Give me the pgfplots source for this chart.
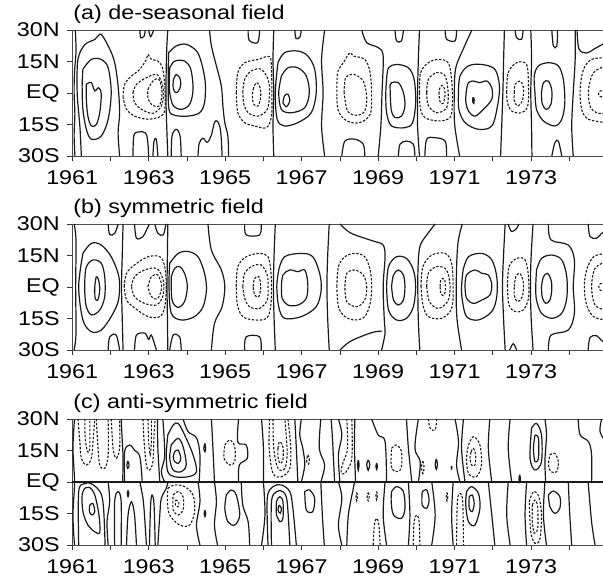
\documentclass[border=0pt]{standalone}
\usepackage{fontspec}
\setmainfont{Liberation Sans}[FakeStretch=1.17]
\usepackage{pgfplots}
\pgfplotsset{compat=1.18}
\newcommand\lbl{\fontsize{20}{23}\selectfont}
\pgfplotsset{
  cpos/.style={black!90, line width=1.2bp, smooth, tension=0.55},
  cneg/.style={cpos, line width=1.1bp, dash pattern=on 2.4bp off 1.6bp},
  panel/.style={
    width=532.4bp, height=126bp, scale only axis,
    xmin=1961, xmax=1974.92, ymin=-30, ymax=30,
    xtick={1961,1962,...,1974},
    xticklabels={1961,,1963,,1965,,1967,,1969,,1971,,1973,},
    ytick={-30,-15,0,15,30},
    yticklabels={30S,15S,EQ,15N,30N},
    xtick pos=left, ytick pos=left,
    tick align=outside,
    major tick length=5bp,
    tick style={black!80, line width=0.8bp},
    axis line style={black!70, line width=0.9bp},
    every tick label/.append style={font=\lbl},
    yticklabel style={xshift=-4bp},
    xticklabel style={yshift=-6bp},
    /pgf/number format/assume math mode=true,
    title style={font=\lbl, at={(0,1)}, anchor=base west, xshift=1bp, yshift=5bp, inner sep=0pt},
    anchor=south west,
  }
}
\begin{document}
\begin{tikzpicture}
\useasboundingbox (0,0) rectangle (603bp,579bp);
%%%%%%%%%%%%%%%%%%%%%%%%%%%%%%%%%%%%%%%% (a)
\begin{axis}[panel, at={(72.2bp,423bp)}, title={(a) de-seasonal field}]
\addplot[cpos] coordinates {(1961.08,30)(1961.1,20)(1961.06,10)(1961.05,0)(1961.07,-10)(1961.05,-20)(1961.07,-30)};
\addplot[cpos] coordinates {(1961.24,-30)(1961.2,-15.7)(1961.13,0.2)(1961.15,16)(1961.33,23)(1961.59,25.5)(1961.72,28)(1961.8,27)(1961.98,21)(1962.11,14.5)(1962.2,3.3)(1962.24,-9.4)(1962.2,-19)(1962.24,-30)};
\addplot[cpos] coordinates {(1961.28,11.3)(1961.5,16)(1961.76,16)(1961.94,12)(1962.02,0.2)(1961.94,-12.5)(1961.76,-20.5)(1961.5,-22)(1961.37,-17.3)(1961.28,-7.8)(1961.26,3.3)(1961.28,11.3)};
\addplot[cpos] coordinates {(1961.37,4.1)(1961.5,5)(1961.59,1)(1961.69,2.5)(1961.76,-0.6)(1961.72,-9.4)(1961.63,-15)(1961.5,-15.7)(1961.41,-11)(1961.37,-3)(1961.37,4.1)};
\addplot[cneg] coordinates {(1962.33,-2.1)(1962.37,4.1)(1962.55,8.1)(1962.77,11.3)(1962.94,16)(1962.98,18.4)(1963.07,16)(1963.24,15.2)(1963.37,11.3)(1963.43,0.2)(1963.42,-7.8)(1963.33,-11)(1962.98,-12.5)(1962.63,-11)(1962.42,-7.8)(1962.33,-2.1)};
\addplot[cneg] coordinates {(1962.59,0.2)(1962.68,4.1)(1962.94,7.3)(1963.2,8.9)(1963.33,5.7)(1963.39,0.2)(1963.33,-6.2)(1963.11,-9.7)(1962.81,-7.8)(1962.63,-4.6)(1962.59,0.2)};
\addplot[cneg] coordinates {(1962.98,1.7)(1963.11,5.7)(1963.27,6.5)(1963.35,0.2)(1963.27,-6.2)(1963.07,-5.4)(1962.98,-2.1)(1962.98,1.7)};
\addplot[cpos] coordinates {(1962.77,30)(1962.79,26.3)(1962.88,27.1)(1962.91,30)};
\addplot[cpos] coordinates {(1963.0,30)(1963.05,26.8)(1963.13,30)};
\addplot[cpos] coordinates {(1962.59,-30)(1962.61,-20.5)(1962.72,-18.6)(1962.94,-19.7)(1963.0,-30)};
\addplot[cpos] coordinates {(1963.11,-30)(1963.14,-22.9)(1963.2,-22)(1963.24,-30)};
\addplot[cpos] coordinates {(1963.5,30)(1963.47,20)(1963.45,0)(1963.47,-15)(1963.5,-30)};
\addplot[cpos] coordinates {(1963.72,8.9)(1963.81,7.3)(1963.84,4.1)(1963.78,0.9)(1963.7,0.2)(1963.64,2.5)(1963.65,6.5)(1963.72,8.9)};
\addplot[cpos] coordinates {(1963.55,12)(1963.68,15.2)(1963.94,15.2)(1964.1,11.3)(1964.16,1.7)(1964.07,-5.4)(1963.85,-7.8)(1963.64,-5.9)(1963.55,0.2)(1963.54,6.5)(1963.55,12)};
\addplot[cpos] coordinates {(1963.52,19.2)(1963.72,22.4)(1963.98,23.2)(1964.25,20)(1964.38,14.4)(1964.48,4.9)(1964.46,-4.6)(1964.33,-9.4)(1964.03,-11)(1963.68,-10.6)(1963.53,-7.8)(1963.51,6.5)(1963.52,19.2)};
\addplot[cpos] coordinates {(1964.59,30)(1964.64,22.4)(1964.77,12.9)(1964.9,3.3)(1964.94,-6.2)(1964.99,-14.1)(1965.07,-20.5)(1965.09,-30)};
\addplot[cpos] coordinates {(1963.59,-30)(1963.61,-20.5)(1963.72,-17.3)(1963.82,-20.5)(1963.85,-30)};
\addplot[cpos] coordinates {(1964.29,-30)(1964.32,-24)(1964.42,-21.5)(1964.53,-23.5)(1964.64,-20)(1964.72,-14)(1964.8,-13.5)(1964.88,-18)(1964.92,-30)};
\addplot[cpos] coordinates {(1965.6,30)(1965.63,25)(1965.85,24)(1965.9,30)};
\addplot[cpos] coordinates {(1966.82,30)(1966.85,26)(1966.95,26.5)(1966.99,30)};
\addplot[cneg] coordinates {(1965.29,0.2)(1965.33,9.7)(1965.51,14.4)(1965.86,16)(1966.16,17.3)(1966.21,11.3)(1966.22,0.2)(1966.21,-11)(1966.08,-16.5)(1965.77,-15.7)(1965.51,-14.1)(1965.33,-9.4)(1965.29,0.2)};
\addplot[cneg] coordinates {(1965.46,0.2)(1965.51,6.5)(1965.68,10.5)(1965.94,11.3)(1966.12,6.5)(1966.16,0.2)(1966.1,-7.8)(1965.86,-11)(1965.6,-9.4)(1965.49,-5.4)(1965.46,0.2)};
\addplot[cneg] coordinates {(1965.73,1.7)(1965.81,4.9)(1965.9,3.3)(1965.93,-1.5)(1965.86,-6.2)(1965.75,-5.4)(1965.71,-2.1)(1965.73,1.7)};
\addplot[cpos] coordinates {(1966.27,30)(1966.25,16)(1966.27,0.2)(1966.25,-15.7)(1966.27,-30)};
\addplot[cpos] coordinates {(1966.38,14.4)(1966.55,19.2)(1966.9,20)(1967.16,17.6)(1967.34,11.3)(1967.38,0.2)(1967.25,-9.4)(1966.9,-14.1)(1966.55,-15.7)(1966.36,-12.5)(1966.31,0.2)(1966.38,14.4)};
\addplot[cpos] coordinates {(1966.47,8.1)(1966.64,12)(1966.9,12)(1967.12,8.1)(1967.2,0.2)(1967.08,-7)(1966.73,-9.4)(1966.47,-7.8)(1966.4,0.2)(1966.47,8.1)};
\addplot[cpos] coordinates {(1966.51,-4.6)(1966.55,-1.4)(1966.64,-0.6)(1966.69,-3.8)(1966.6,-6.5)(1966.51,-4.6)};
\addplot[cpos] coordinates {(1967.6,30)(1967.52,16)(1967.56,0.2)(1967.52,-15.7)(1967.6,-30)};
\addplot[cneg] coordinates {(1967.92,-1.4)(1967.94,9.7)(1968.09,14.4)(1968.26,19.2)(1968.35,17.6)(1968.65,16)(1968.79,9.7)(1968.83,-1.4)(1968.79,-10.2)(1968.52,-14.1)(1968.18,-13.3)(1967.96,-8.6)(1967.92,-1.4)};
\addplot[cneg] coordinates {(1968.11,0.2)(1968.15,7.3)(1968.35,8.9)(1968.61,5.7)(1968.7,-2.2)(1968.65,-8.6)(1968.44,-10.6)(1968.2,-8.6)(1968.11,0.2)};
\addplot[cpos] coordinates {(1968.57,30)(1968.7,24)(1969.0,21.6)(1969.13,17.6)(1969.1,0.2)(1969.07,-15.7)(1969.0,-30)};
\addplot[cpos] coordinates {(1969.22,6.5)(1969.27,12)(1969.48,13.6)(1969.79,12)(1969.94,6.5)(1969.98,-4.6)(1969.9,-14.1)(1969.7,-16.5)(1969.35,-15.7)(1969.22,-9.4)(1969.2,0.2)(1969.22,6.5)};
\addplot[cpos] coordinates {(1969.31,3.3)(1969.35,4.9)(1969.53,4.9)(1969.66,0.2)(1969.7,-6.2)(1969.61,-11)(1969.44,-11.7)(1969.34,-7.8)(1969.31,3.3)};
\addplot[cpos] coordinates {(1970.08,30)(1970.05,16)(1970.03,0.2)(1970.03,-15.7)(1970.08,-30)};
\addplot[cneg] coordinates {(1970.08,0.2)(1970.11,9.7)(1970.31,14.4)(1970.57,16)(1970.83,14.4)(1970.92,6.5)(1970.94,-4.6)(1970.88,-11.7)(1970.57,-13.3)(1970.22,-11.7)(1970.1,-7)(1970.08,0.2)};
\addplot[cneg] coordinates {(1970.27,0.2)(1970.31,6.5)(1970.53,9.7)(1970.75,8.1)(1970.83,0.2)(1970.79,-7)(1970.53,-9.4)(1970.31,-5.9)(1970.27,0.2)};
\addplot[cneg] coordinates {(1970.59,-0.4)(1970.62,2.7)(1970.7,3.5)(1970.75,-0.4)(1970.7,-4.9)(1970.62,-4.3)(1970.59,-0.4)};
\addplot[cpos] coordinates {(1971.13,-30)(1971.0,-15)(1970.99,0)(1971.03,12)(1971.25,22)(1971.45,30)};
\addplot[cpos] coordinates {(1971.1,0.2)(1971.14,8.1)(1971.36,12.9)(1971.7,13.6)(1972.05,11.3)(1972.17,3.3)(1972.12,-6.2)(1971.97,-15.7)(1971.62,-17.3)(1971.27,-14.1)(1971.11,-7.8)(1971.1,0.2)};
\addplot[cpos] coordinates {(1971.31,1.7)(1971.36,4.9)(1971.49,5.7)(1971.66,4.9)(1971.84,5.7)(1971.97,2.5)(1971.97,-3)(1971.75,-7.8)(1971.53,-11)(1971.36,-8.6)(1971.29,-3.8)(1971.31,1.7)};
\addplot[cpos] coordinates {(1971.48,-2)(1971.51,-3)(1971.5,-5)(1971.47,-4)(1971.48,-2)};
\addplot[cpos] coordinates {(1972.3,30)(1972.28,16)(1972.26,0.2)(1972.23,-15.7)(1972.2,-30)};
\addplot[cneg] coordinates {(1972.36,0.2)(1972.4,9.7)(1972.62,14.4)(1972.88,13.6)(1972.93,3.3)(1972.91,-6.2)(1972.75,-9.4)(1972.49,-8.6)(1972.38,-4.6)(1972.36,0.2)};
\addplot[cneg] coordinates {(1972.56,0.2)(1972.58,4.1)(1972.71,5.7)(1972.8,2.5)(1972.77,-3.8)(1972.65,-6.2)(1972.56,-3.8)(1972.56,0.2)};
\addplot[cpos] coordinates {(1972.99,30)(1973.01,16)(1972.99,0.2)(1973.01,-15.7)(1973.02,-30)};
\addplot[cpos] coordinates {(1973.1,0.2)(1973.08,8.1)(1973.19,12.9)(1973.45,14.4)(1973.71,12.9)(1973.84,6.5)(1973.88,-4.6)(1973.8,-12.5)(1973.62,-15.7)(1973.32,-13.3)(1973.14,-7.8)(1973.1,0.2)};
\addplot[cpos] coordinates {(1973.27,0.2)(1973.32,4.9)(1973.45,5.7)(1973.54,1.2)(1973.52,-5.2)(1973.4,-7.8)(1973.29,-5.2)(1973.27,0.2)};
\addplot[cpos] coordinates {(1974.15,30)(1974.15,16)(1974.1,0.2)(1974.06,-15.7)(1974.1,-30)};
\addplot[cneg] coordinates {(1974.95,16.8)(1974.58,16)(1974.37,11.3)(1974.28,1.7)(1974.32,-7.8)(1974.5,-12.5)(1974.95,-14.1)};
\addplot[cneg] coordinates {(1974.95,12.9)(1974.63,9.7)(1974.5,1.7)(1974.54,-6.2)(1974.71,-9.4)(1974.95,-9.7)};
\addplot[cneg] coordinates {(1974.95,1.2)(1974.8,1.0)(1974.76,0)(1974.8,-1.7)(1974.95,-1.7)};
\addplot[cpos] coordinates {(1969.44,30)(1969.48,24.8)(1969.61,24.8)(1969.66,30)};
\addplot[cpos] coordinates {(1970.75,30)(1970.79,25.6)(1971.01,24.8)(1971.05,30)};
\addplot[cpos] coordinates {(1972.58,30)(1972.62,26.3)(1972.75,25.6)(1972.79,30)};
\addplot[cpos] coordinates {(1973.54,30)(1973.58,22.4)(1973.67,22.4)(1973.69,30)};
\addplot[cpos] coordinates {(1974.2,30)(1974.25,21)(1974.45,19)(1974.65,21)(1974.95,24)};
\addplot[cpos] coordinates {(1968.05,-30)(1968.13,-22.9)(1968.39,-22)(1968.61,-24.4)(1968.65,-30)};
\addplot[cpos] coordinates {(1969.53,-30)(1969.57,-24.4)(1969.74,-22.9)(1969.92,-24.4)(1969.96,-30)};
\addplot[cpos] coordinates {(1970.22,-30)(1970.27,-22)(1970.49,-21.3)(1970.75,-22.9)(1970.79,-30)};
\addplot[cpos] coordinates {(1973.54,-30)(1973.62,-23.7)(1973.71,-22.9)(1973.8,-30)};
\end{axis}
%%%%%%%%%%%%%%%%%%%%%%%%%%%%%%%%%%%%%%%% (b)
\begin{axis}[panel, at={(72.2bp,229bp)}, title={(b) symmetric field}]
\addplot[cpos] coordinates {(1961.05,30)(1961.1,22)(1961.09,0)(1961.1,-22)(1961.05,-30)};
\addplot[cpos] coordinates {(1961.28,16)(1961.5,20.8)(1961.76,20)(1962.02,14.4)(1962.2,6.5)(1962.24,0.2)(1962.2,-7)(1962.02,-14.1)(1961.76,-20.5)(1961.5,-21.3)(1961.28,-15.7)(1961.17,0.2)(1961.28,16)};
\addplot[cpos] coordinates {(1961.33,3.3)(1961.37,9.7)(1961.55,12.9)(1961.76,11.3)(1961.85,4.9)(1961.85,-4.6)(1961.72,-11)(1961.5,-13.3)(1961.37,-9.4)(1961.33,-3)(1961.33,3.3)};
\addplot[cpos] coordinates {(1961.59,0.2)(1961.63,4.9)(1961.69,3.3)(1961.72,-1.4)(1961.67,-6.2)(1961.6,-5.4)(1961.59,0.2)};
\addplot[cpos] coordinates {(1962.33,30)(1962.31,16)(1962.29,0.2)(1962.31,-15.7)(1962.33,-30)};
\addplot[cpos] coordinates {(1961.94,30)(1961.98,25)(1962.11,25.5)(1962.2,30)};
\addplot[cpos] coordinates {(1961.94,-30)(1961.98,-23.7)(1962.15,-22.9)(1962.24,-30)};
\addplot[cpos] coordinates {(1962.63,30)(1962.68,23.2)(1962.85,24)(1962.94,27.1)(1963.02,30)};
\addplot[cpos] coordinates {(1963.16,30)(1963.24,25.6)(1963.38,24.8)(1963.45,30)};
\addplot[cpos] coordinates {(1962.63,-30)(1962.68,-22.9)(1962.9,-22)(1963.0,-25)(1963.07,-22.9)(1963.2,-30)};
\addplot[cneg] coordinates {(1962.36,0.2)(1962.42,6.5)(1962.63,10.5)(1962.98,14.4)(1963.29,14.4)(1963.42,9.7)(1963.46,0.2)(1963.42,-9.4)(1963.29,-14.1)(1962.98,-14.1)(1962.63,-9.9)(1962.42,-6.2)(1962.36,0.2)};
\addplot[cneg] coordinates {(1962.55,0.2)(1962.63,4.9)(1962.89,8.1)(1963.2,8.9)(1963.35,4.9)(1963.4,0.2)(1963.35,-5.4)(1963.2,-8.6)(1962.89,-7.8)(1962.63,-4.6)(1962.55,0.2)};
\addplot[cneg] coordinates {(1962.98,0.2)(1963.07,4.9)(1963.24,5.7)(1963.34,0.2)(1963.24,-5.4)(1963.07,-4.6)(1962.98,0.2)};
\addplot[cpos] coordinates {(1963.5,30)(1963.49,16)(1963.48,0.2)(1963.49,-15.7)(1963.5,-30)};
\addplot[cpos] coordinates {(1963.55,11.3)(1963.77,16)(1964.03,16.9)(1964.29,14.4)(1964.46,6.5)(1964.51,-1.4)(1964.42,-9.4)(1964.2,-14.1)(1963.85,-15.7)(1963.59,-12.5)(1963.53,0.2)(1963.55,11.3)};
\addplot[cpos] coordinates {(1963.59,4.9)(1963.68,8.9)(1963.81,9.7)(1963.94,6.5)(1964.01,0.2)(1963.94,-6.8)(1963.77,-9.7)(1963.61,-6.2)(1963.59,4.9)};
\addplot[cpos] coordinates {(1964.55,30)(1964.64,17.6)(1964.9,8.1)(1964.99,0.2)(1964.92,-9.4)(1964.72,-17.3)(1964.64,-30)};
\addplot[cpos] coordinates {(1963.55,-30)(1963.64,-22.9)(1963.81,-23.7)(1963.85,-30)};
\addplot[cpos] coordinates {(1965.51,30)(1965.55,24.8)(1965.9,24.8)(1965.94,30)};
\addplot[cpos] coordinates {(1965.51,-30)(1965.55,-23.7)(1965.9,-23.7)(1965.94,-30)};
\addplot[cneg] coordinates {(1965.29,0.2)(1965.33,9.7)(1965.55,14.4)(1965.9,16)(1966.12,14.4)(1966.19,8.1)(1966.21,0.2)(1966.19,-9.4)(1966.08,-14.9)(1965.77,-15.7)(1965.46,-14.1)(1965.32,-8.6)(1965.29,0.2)};
\addplot[cneg] coordinates {(1965.46,0.2)(1965.51,6.5)(1965.68,9.7)(1965.94,10.5)(1966.1,5.7)(1966.12,0.2)(1966.1,-6.2)(1965.9,-10.2)(1965.64,-9.4)(1965.51,-5.4)(1965.46,0.2)};
\addplot[cneg] coordinates {(1965.73,0.2)(1965.77,4.1)(1965.88,4.9)(1965.93,0.2)(1965.88,-4.6)(1965.77,-3.8)(1965.73,0.2)};
\addplot[cpos] coordinates {(1966.31,30)(1966.28,16)(1966.26,0.2)(1966.28,-15.7)(1966.31,-30)};
\addplot[cpos] coordinates {(1966.4,8.1)(1966.55,14.4)(1966.99,16)(1967.29,14.4)(1967.47,6.5)(1967.51,-1.4)(1967.38,-9.4)(1966.99,-14.1)(1966.55,-14.9)(1966.4,-9.4)(1966.35,0.2)(1966.4,8.1)};
\addplot[cpos] coordinates {(1966.47,0.2)(1966.51,5.7)(1966.69,8.1)(1966.9,7.3)(1967.08,8.1)(1967.16,1.7)(1967.12,-5.4)(1966.9,-8.6)(1966.64,-8.6)(1966.49,-5.4)(1966.47,0.2)};
\addplot[cpos] coordinates {(1967.72,30)(1967.68,15)(1967.66,0)(1967.68,-15)(1967.72,-30)};
\addplot[cpos] coordinates {(1968.0,30)(1968.26,25.9)(1968.65,23.2)(1968.92,21.6)(1969.13,20)(1969.18,14.4)(1969.13,0.2)(1969.16,-15.7)(1969.18,-22)(1969.09,-30)};
\addplot[cpos] coordinates {(1968.0,-30)(1968.26,-26)(1968.65,-22.9)(1968.92,-21.3)(1969.1,-21)};
\addplot[cneg] coordinates {(1967.92,0.2)(1967.96,9.7)(1968.13,14.4)(1968.39,16)(1968.65,14.4)(1968.79,8.1)(1968.83,0.2)(1968.79,-7.8)(1968.65,-14.1)(1968.39,-15.7)(1968.13,-14.1)(1967.96,-9.4)(1967.92,0.2)};
\addplot[cneg] coordinates {(1968.13,0.2)(1968.18,6.5)(1968.39,8.1)(1968.61,5.7)(1968.7,0.2)(1968.65,-6.2)(1968.44,-9.4)(1968.18,-7)(1968.13,0.2)};
\addplot[cpos] coordinates {(1969.22,0.2)(1969.27,9.7)(1969.48,14.4)(1969.74,13.6)(1969.92,8.1)(1969.98,0.2)(1969.92,-9.4)(1969.74,-14.9)(1969.48,-15.7)(1969.27,-11)(1969.22,0.2)};
\addplot[cpos] coordinates {(1969.35,0.2)(1969.4,5.7)(1969.53,8.1)(1969.66,5.7)(1969.7,0.2)(1969.66,-6.2)(1969.53,-8.6)(1969.4,-6.2)(1969.35,0.2)};
\addplot[cpos] coordinates {(1970.49,30)(1970.27,24.8)(1970.09,19.2)(1970.04,8.1)(1970.04,-7.8)(1970.06,-20.5)(1970.09,-30)};
\addplot[cneg] coordinates {(1970.12,0.2)(1970.17,9.7)(1970.4,15.2)(1970.75,16)(1970.92,11.3)(1970.96,0.2)(1970.92,-10.2)(1970.66,-14.9)(1970.31,-14.1)(1970.17,-8.6)(1970.12,0.2)};
\addplot[cneg] coordinates {(1970.27,0.2)(1970.31,6.5)(1970.53,9.7)(1970.79,8.1)(1970.88,0.2)(1970.82,-6.8)(1970.57,-10.2)(1970.34,-7)(1970.27,0.2)};
\addplot[cneg] coordinates {(1970.62,0.2)(1970.64,3.5)(1970.73,3.8)(1970.76,0.2)(1970.73,-3.8)(1970.64,-3.3)(1970.62,0.2)};
\addplot[cpos] coordinates {(1971.2,30)(1971.08,20)(1971.04,0.2)(1971.06,-15)(1971.18,-30)};
\addplot[cpos] coordinates {(1971.22,8.1)(1971.36,14.4)(1971.71,16)(1971.97,12.9)(1972.1,4.9)(1972.1,-4.6)(1971.97,-11.7)(1971.62,-15.7)(1971.31,-14.1)(1971.2,-6.2)(1971.18,0.2)(1971.22,8.1)};
\addplot[cpos] coordinates {(1971.27,0.2)(1971.31,5.7)(1971.53,8.1)(1971.71,6.5)(1971.88,5.7)(1971.97,1.2)(1971.92,-3.8)(1971.71,-6.2)(1971.49,-7.8)(1971.31,-5.4)(1971.27,0.2)};
\addplot[cpos] coordinates {(1972.32,30)(1972.28,16)(1972.25,0.2)(1972.28,-15.7)(1972.32,-30)};
\addplot[cpos] coordinates {(1972.4,30)(1972.48,26.5)(1972.6,27.5)(1972.68,30)};
\addplot[cpos] coordinates {(1972.44,-30)(1972.53,-27)(1972.62,-30)};
\addplot[cneg] coordinates {(1972.38,0.2)(1972.42,9.7)(1972.62,13.6)(1972.84,12.9)(1972.93,4.9)(1972.93,-5.4)(1972.79,-11)(1972.58,-11.7)(1972.42,-8.6)(1972.38,0.2)};
\addplot[cneg] coordinates {(1972.56,0.2)(1972.6,4.9)(1972.71,6.5)(1972.8,1.7)(1972.77,-4.6)(1972.65,-7)(1972.56,-4.3)(1972.56,0.2)};
\addplot[cpos] coordinates {(1973.05,30)(1973.0,15)(1972.98,0)(1973.0,-15)(1973.05,-30)};
\addplot[cpos] coordinates {(1973.14,8.1)(1973.27,13.6)(1973.54,15.2)(1973.8,12.9)(1973.93,4.9)(1973.93,-5.4)(1973.8,-12.5)(1973.54,-14.9)(1973.27,-12.5)(1973.14,-6.2)(1973.12,0.2)(1973.14,8.1)};
\addplot[cpos] coordinates {(1973.27,0.2)(1973.32,4.9)(1973.43,6.5)(1973.52,3.3)(1973.54,-1.2)(1973.49,-6.2)(1973.38,-7.8)(1973.29,-4.9)(1973.27,0.2)};
\addplot[cpos] coordinates {(1973.45,30)(1973.52,22.4)(1973.97,20)(1974.13,12.9)(1974.1,0.2)(1974.13,-12.5)(1973.97,-20.5)(1973.52,-22.9)(1973.45,-30)};
\addplot[cpos] coordinates {(1974.49,30)(1974.54,24)(1974.71,23.2)(1974.84,25.5)(1974.95,27)};
\addplot[cpos] coordinates {(1974.49,-30)(1974.54,-24)(1974.71,-23.2)(1974.84,-25.5)(1974.95,-27)};
\addplot[cneg] coordinates {(1974.95,16)(1974.63,14.4)(1974.45,8.1)(1974.39,0.2)(1974.45,-8.6)(1974.63,-14.1)(1974.95,-15.7)};
\addplot[cneg] coordinates {(1974.95,12)(1974.67,8.9)(1974.58,0.2)(1974.67,-8.6)(1974.95,-11)};
\addplot[cneg] coordinates {(1974.95,2)(1974.8,1.5)(1974.77,0)(1974.8,-1.5)(1974.95,-2)};
\end{axis}
%%%%%%%%%%%%%%%%%%%%%%%%%%%%%%%%%%%%%%%% (c)
\begin{axis}[panel, at={(72.2bp,34bp)}, title={(c) anti-symmetric field}]
\addplot[cpos, sharp plot] coordinates {(1961,0)(1975,0)};
\addplot[cpos] coordinates {(1961.06,30)(1961.02,16)(1961.06,0)(1961.02,-16)(1961.06,-30)};
% north, left half
\addplot[cneg] coordinates {(1961.15,30)(1961.2,19.2)(1961.24,11.3)(1961.37,8.1)(1961.5,11.3)(1961.55,20.8)(1961.59,30)};
\addplot[cneg] coordinates {(1961.33,30)(1961.34,20.8)(1961.4,14.4)(1961.46,16)(1961.46,30)};
\addplot[cneg] coordinates {(1961.63,30)(1961.67,17.6)(1961.72,8.1)(1961.85,6.5)(1961.94,12.9)(1961.94,30)};
\addplot[cneg] coordinates {(1962.02,30)(1962.07,16)(1962.15,11.3)(1962.24,16)(1962.24,30)};
\addplot[cpos] coordinates {(1962.28,30)(1962.31,19.2)(1962.33,11.3)(1962.32,0)};
\addplot[cpos] coordinates {(1962.37,0)(1962.37,14.4)(1962.5,17.6)(1962.63,15.2)(1962.77,12)(1962.83,0)};
\addplot[cpos] coordinates {(1962.45,10)(1962.48,9)(1962.48,7)(1962.45,6.5)(1962.43,8)(1962.45,10)};
\addplot[cneg] coordinates {(1962.85,30)(1962.88,19.2)(1962.94,8.1)(1963.02,5.7)(1963.11,9.7)(1963.14,22.4)(1963.17,30)};
\addplot[cneg] coordinates {(1962.98,30)(1963.0,19.2)(1963.04,12.9)(1963.07,19.2)(1963.07,30)};
\addplot[cpos] coordinates {(1963.23,30)(1963.24,16)(1963.29,0)};
\addplot[cpos] coordinates {(1963.37,30)(1963.42,12.9)(1963.33,4.9)(1963.42,0)};
\addplot[cpos] coordinates {(1963.68,14.4)(1963.77,15.2)(1963.84,11.3)(1963.78,8.9)(1963.68,9.7)(1963.64,12)(1963.68,14.4)};
\addplot[cpos] coordinates {(1963.59,17.6)(1963.77,20.8)(1963.9,16.8)(1963.98,8.1)(1963.85,4.9)(1963.64,5.7)(1963.55,11.3)(1963.59,17.6)};
\addplot[cpos] coordinates {(1963.5,22.4)(1963.64,27.1)(1963.77,27.9)(1963.94,22.4)(1964.16,12.9)(1964.25,4.9)(1964.03,2.5)(1963.68,2.5)(1963.5,4.9)(1963.46,12.9)(1963.5,22.4)};
\addplot[cpos] coordinates {(1963.9,30)(1964.03,24)(1964.25,21)(1964.34,12.9)(1964.32,0)};
\addplot[cpos] coordinates {(1964.47,18.4)(1964.49,16)(1964.47,14.4)(1964.44,16)(1964.47,18.4)};
\addplot[cpos] coordinates {(1964.64,30)(1964.68,16)(1964.72,0)};
\addplot[cneg] coordinates {(1964.99,17.6)(1965.12,20)(1965.25,16.8)(1965.25,9.7)(1965.12,8.1)(1964.97,11.3)(1964.99,17.6)};
\addplot[cpos] coordinates {(1965.35,30)(1965.33,19)(1965.55,17.6)(1965.58,11.3)(1965.37,8.1)(1965.35,0)};
\addplot[cpos] coordinates {(1965.95,30)(1966.0,16)(1966.0,0)};
\addplot[cneg] coordinates {(1966.16,30)(1966.15,16)(1966.25,4.1)(1966.47,2.5)(1966.69,6.5)(1966.71,17.6)(1966.64,30)};
\addplot[cneg] coordinates {(1966.25,30)(1966.27,16)(1966.38,6.5)(1966.56,6.5)(1966.62,14.4)(1966.56,30)};
\addplot[cneg] coordinates {(1966.38,16)(1966.42,19.2)(1966.51,16.8)(1966.51,10.5)(1966.43,8.9)(1966.38,12)(1966.38,16)};
\addplot[cpos] coordinates {(1966.82,30)(1966.86,16)(1966.9,0)};
\addplot[cpos] coordinates {(1966.99,30)(1966.95,22.4)(1967.03,16)(1967.08,8.1)(1966.99,0)};
\addplot[cneg] coordinates {(1967.16,13)(1967.2,11)(1967.18,8.5)(1967.13,10)(1967.16,13)};
\addplot[cpos] coordinates {(1967.5,30)(1967.46,16)(1967.6,8.1)(1967.5,0)};
\addplot[cpos] coordinates {(1967.77,30)(1967.81,19)(1967.86,0)};
% south, left half
\addplot[cpos] coordinates {(1961.46,-11)(1961.54,-10.2)(1961.59,-14.1)(1961.52,-15.7)(1961.45,-14.1)(1961.46,-11)};
\addplot[cpos] coordinates {(1961.33,-3)(1961.46,-2.6)(1961.59,-6.2)(1961.7,-15.7)(1961.72,-24)(1961.59,-23.7)(1961.41,-20.5)(1961.28,-14.1)(1961.26,-6.2)(1961.33,-3)};
\addplot[cpos] coordinates {(1961.17,-30)(1961.17,-4.6)(1961.33,-0.8)(1961.5,-0.8)(1961.74,-5)(1961.82,-12.5)(1961.86,-30)};
\addplot[cpos] coordinates {(1961.94,0)(1961.98,-9.4)(1961.91,-18.9)(1961.94,-30)};
\addplot[cpos] coordinates {(1962.11,-30)(1962.11,-9.4)(1962.2,-4.6)(1962.28,-9.4)(1962.28,-30)};
\addplot[cpos] coordinates {(1962.42,-30)(1962.46,-15.7)(1962.55,-9.4)(1962.63,-15.7)(1962.68,-30)};
\addplot[cpos] coordinates {(1962.46,-4)(1962.48,-5.5)(1962.46,-7)(1962.44,-5.5)(1962.46,-4)};
\addplot[cpos] coordinates {(1962.77,0)(1962.85,-7.8)(1962.89,-15.7)(1962.94,-30)};
\addplot[cpos] coordinates {(1963.02,-30)(1963.05,-11)(1963.09,-6.2)(1963.14,-11)(1963.17,-30)};
\addplot[cpos] coordinates {(1963.24,-30)(1963.29,-15.7)(1963.33,-7.8)(1963.46,-3)(1963.5,0)};
\addplot[cneg] coordinates {(1963.5,-3)(1963.68,-1.4)(1963.94,-2.2)(1964.16,-6.2)(1964.2,-14.1)(1964.07,-20.5)(1963.81,-20.5)(1963.55,-15.7)(1963.49,-9.4)(1963.5,-3)};
\addplot[cneg] coordinates {(1963.64,-6.2)(1963.77,-4.6)(1963.9,-7)(1963.9,-13.3)(1963.77,-15.7)(1963.64,-13.3)(1963.64,-6.2)};
\addplot[cneg] coordinates {(1963.7,-8.6)(1963.79,-9.4)(1963.77,-11.8)(1963.7,-11)(1963.7,-8.6)};
\addplot[cpos] coordinates {(1964.29,0)(1964.34,-9.4)(1964.25,-20.5)(1964.34,-30)};
\addplot[cpos] coordinates {(1964.47,-13.5)(1964.49,-15)(1964.47,-16.5)(1964.45,-15)(1964.47,-13.5)};
\addplot[cpos] coordinates {(1964.72,0)(1964.77,-9.4)(1964.72,-20.5)(1964.8,-30)};
\addplot[cpos] coordinates {(1965.03,-6.2)(1965.16,-3.8)(1965.29,-6.2)(1965.38,-15.7)(1965.25,-20.5)(1965.07,-18.9)(1964.99,-12.5)(1965.03,-6.2)};
\addplot[cpos] coordinates {(1965.42,0)(1965.46,-11)(1965.6,-18.9)(1965.64,-30)};
\addplot[cpos] coordinates {(1966.0,0)(1966.04,-15.7)(1965.95,-30)};
\addplot[cpos] coordinates {(1966.12,-30)(1966.1,-7.8)(1966.25,-2.2)(1966.47,-1.4)(1966.69,-4.6)(1966.77,-12.5)(1966.86,-30)};
\addplot[cpos] coordinates {(1966.21,-30)(1966.21,-9.4)(1966.34,-4.6)(1966.51,-4.6)(1966.62,-9.4)(1966.69,-30)};
\addplot[cpos] coordinates {(1966.34,-15.7)(1966.34,-9.4)(1966.43,-7)(1966.51,-9.4)(1966.51,-17.3)(1966.43,-18.9)(1966.34,-15.7)};
\addplot[cpos] coordinates {(1966.41,-11)(1966.47,-12.5)(1966.44,-14.9)(1966.38,-13.3)(1966.41,-11)};
\addplot[cpos] coordinates {(1967.08,-4.6)(1967.21,-3.8)(1967.34,-7.8)(1967.29,-14.1)(1967.12,-13.3)(1967.08,-4.6)};
\addplot[cpos] coordinates {(1967.5,0)(1967.54,-15.7)(1967.59,-30)};
% north, right half
\addplot[cpos] coordinates {(1967.96,30)(1968.05,22.4)(1967.96,12.9)(1968.0,0)};
\addplot[cneg] coordinates {(1968.18,30)(1968.2,16)(1968.09,9.7)(1968.03,4.9)(1968.13,4.1)(1968.31,11.3)(1968.31,30)};
\addplot[cpos] coordinates {(1968.39,30)(1968.38,16)(1968.41,0)};
\addplot[cpos] coordinates {(1968.48,10.5)(1968.5,8.5)(1968.48,5.5)(1968.46,8.5)(1968.48,10.5)};
\addplot[cpos] coordinates {(1968.74,10.5)(1968.78,8.5)(1968.74,5.5)(1968.7,8.5)(1968.74,10.5)};
\addplot[cpos] coordinates {(1968.96,9)(1968.98,7.5)(1968.96,6)(1968.94,7.5)(1968.96,9)};
\addplot[cpos] coordinates {(1968.83,30)(1969.0,22.4)(1969.18,19.2)(1969.22,0)};
\addplot[cpos] coordinates {(1969.74,30)(1969.79,16)(1969.88,0)};
\addplot[cneg] coordinates {(1969.35,16)(1969.48,17.6)(1969.61,14.4)(1969.6,6.5)(1969.44,4.9)(1969.34,8.1)(1969.35,16)};
\addplot[cneg] coordinates {(1970.17,10)(1970.2,7)(1970.17,4)(1970.13,7)(1970.17,10)};
\addplot[cpos] coordinates {(1970.52,11)(1970.55,8.5)(1970.52,6)(1970.49,8.5)(1970.52,11)};
\addplot[cpos] coordinates {(1970.92,7.6)(1970.93,7)(1970.92,6.4)(1970.91,7)(1970.92,7.6)};
\addplot[cneg] coordinates {(1970.31,30)(1970.36,25.6)(1970.49,24.8)(1970.53,30)};
\addplot[cpos] coordinates {(1970.05,30)(1969.96,16)(1970.1,9.7)(1970.05,0)};
\addplot[cpos] coordinates {(1971.01,30)(1971.1,19.2)(1971.05,8.1)(1971.14,0)};
\addplot[cpos] coordinates {(1971.23,30)(1971.18,16)(1971.27,0)};
\addplot[cneg] coordinates {(1971.36,17.6)(1971.49,21.6)(1971.66,17.6)(1971.7,8.1)(1971.57,2.5)(1971.36,4.1)(1971.31,11.3)(1971.36,17.6)};
\addplot[cneg] coordinates {(1971.43,14.4)(1971.49,16)(1971.55,12.9)(1971.53,8.1)(1971.44,8.1)(1971.4,11.3)(1971.43,14.4)};
\addplot[cpos] coordinates {(1971.92,30)(1971.88,16)(1971.97,0)};
\addplot[cpos] coordinates {(1972.45,30)(1972.4,16)(1972.49,0)};
\addplot[cpos] coordinates {(1972.7,3.5)(1972.72,1.5)(1972.7,0)(1972.68,1.5)(1972.7,3.5)};
\addplot[cpos] coordinates {(1973.01,25.6)(1973.14,27.9)(1973.27,22.4)(1973.27,9.7)(1973.1,5.7)(1972.97,11.3)(1973.01,25.6)};
\addplot[cpos] coordinates {(1973.1,22.4)(1973.19,20.8)(1973.19,11.3)(1973.1,9.7)(1973.06,16)(1973.1,22.4)};
\addplot[cneg] coordinates {(1973.49,12.9)(1973.62,13.6)(1973.71,9.7)(1973.67,4.9)(1973.52,4.9)(1973.45,8.1)(1973.49,12.9)};
\addplot[cpos] coordinates {(1973.36,30)(1973.4,22.4)(1973.36,10)(1973.38,0)};
\addplot[cpos] coordinates {(1974.23,30)(1974.28,22.4)(1974.5,19.2)(1974.58,12.9)(1974.58,0)};
\addplot[cpos] coordinates {(1974.84,30)(1974.8,24)(1974.95,19)};
% south, right half
\addplot[cpos] coordinates {(1967.96,0)(1968.05,-7.8)(1967.96,-20.5)(1968.05,-30)};
\addplot[cpos] coordinates {(1968.18,-30)(1968.22,-15.7)(1968.35,-3)(1968.38,0)};
\addplot[cneg] coordinates {(1968.44,-5)(1968.46,-7)(1968.44,-9)(1968.42,-7)(1968.44,-5)};
\addplot[cneg] coordinates {(1968.74,-5)(1968.77,-6.5)(1968.74,-9)(1968.71,-7)(1968.74,-5)};
\addplot[cneg] coordinates {(1968.96,-4.5)(1968.98,-6.5)(1968.96,-8.5)(1968.94,-6.5)(1968.96,-4.5)};
\addplot[cneg] coordinates {(1968.87,-30)(1968.9,-20.5)(1968.96,-17.3)(1969.02,-20.5)(1969.05,-30)};
\addplot[cpos] coordinates {(1969.35,-4.6)(1969.48,-2.2)(1969.66,-4.6)(1969.7,-12.5)(1969.61,-17.3)(1969.4,-15.7)(1969.34,-9.4)(1969.35,-4.6)};
\addplot[cneg] coordinates {(1969.92,-30)(1969.94,-18.9)(1970.01,-15.7)(1970.07,-18.9)(1970.09,-30)};
\addplot[cpos] coordinates {(1970.15,-4.6)(1970.27,-3.8)(1970.33,-8.6)(1970.27,-12.5)(1970.15,-11)(1970.15,-4.6)};
\addplot[cpos] coordinates {(1969.18,0)(1969.13,-15.7)(1969.22,-30)};
\addplot[cpos] coordinates {(1969.79,0)(1969.83,-15.7)(1969.79,-30)};
\addplot[cpos] coordinates {(1970.4,0)(1970.49,-15.7)(1970.4,-30)};
\addplot[cpos] coordinates {(1970.96,0)(1970.92,-15.7)(1970.96,-30)};
\addplot[cneg] coordinates {(1971.05,-30)(1971.07,-9.4)(1971.14,-5.4)(1971.21,-9.4)(1971.23,-30)};
\addplot[cneg] coordinates {(1970.8,-5)(1970.82,-7)(1970.8,-9)(1970.78,-7)(1970.8,-5)};
\addplot[cpos] coordinates {(1971.31,-4.6)(1971.44,-2.2)(1971.62,-5.4)(1971.66,-12.5)(1971.53,-20.5)(1971.36,-18.9)(1971.29,-11)(1971.31,-4.6)};
\addplot[cpos] coordinates {(1971.38,-7)(1971.46,-6.2)(1971.51,-10.2)(1971.46,-14.1)(1971.38,-12.5)(1971.38,-7)};
\addplot[cpos] coordinates {(1971.88,0)(1971.97,-15.7)(1972.05,-30)};
\addplot[cpos] coordinates {(1972.4,0)(1972.36,-15.7)(1972.45,-30)};
\addplot[cpos] coordinates {(1972.88,0)(1972.84,-15.7)(1972.88,-30)};
\addplot[cneg] coordinates {(1972.95,-9.4)(1973.06,-4.6)(1973.2,-7)(1973.27,-15.7)(1973.23,-27)(1973.1,-29.2)(1972.99,-23.7)(1972.95,-9.4)};
\addplot[cneg] coordinates {(1973.03,-11)(1973.1,-8.6)(1973.17,-11.8)(1973.17,-22)(1973.08,-24.4)(1973.03,-18.9)(1973.03,-11)};
\addplot[cpos] coordinates {(1973.45,-6.2)(1973.58,-4.3)(1973.75,-7)(1973.75,-12.5)(1973.62,-14.9)(1973.49,-11.8)(1973.45,-6.2)};
\addplot[cpos] coordinates {(1973.36,0)(1973.32,-15.7)(1973.4,-30)};
\addplot[cpos] coordinates {(1973.97,0)(1974.01,-15.7)(1974.06,-30)};
\addplot[cpos] coordinates {(1974.49,0)(1974.58,-19)(1974.67,-30)};
\end{axis}
\end{tikzpicture}
\end{document}
